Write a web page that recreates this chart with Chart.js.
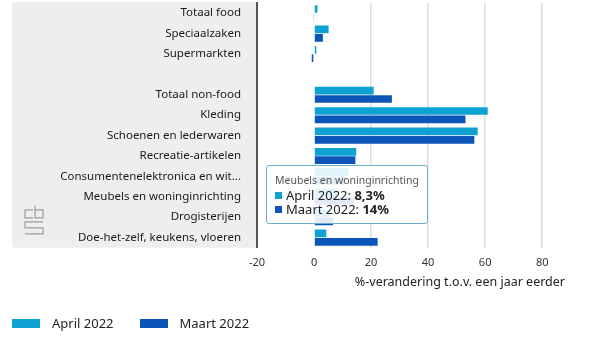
<!DOCTYPE html>
<html>
<head>
<meta charset="utf-8">
<script src="https://cdn.jsdelivr.net/npm/chart.js@4.4.1/dist/chart.umd.min.js"></script>
<style>
  body { margin: 0; background: #fff; font-family: 'Noto Sans', sans-serif; }
  #wrap { position: relative; width: 600px; height: 338px; }
  #tip {
    position: absolute; pointer-events: none; opacity: 0;
    background: rgba(255, 255, 255, 0.88);
    border: 1.5px solid #6aafd0; border-radius: 3px;
    padding: 7px 8px 7px 8px; white-space: nowrap;
  }
  #tip .t { font-size: 10.5px; line-height: 14px; color: #555; margin-bottom: 1px; }
  #tip .r { font-size: 13px; line-height: 14px; color: #222; }
  #tip .sw { display: inline-block; width: 7px; height: 7px; margin-right: 4px; vertical-align: 1px; }
  #legend { position: absolute; left: 12px; top: 314px; display: flex; gap: 26px; }
  #legend .li { display: flex; align-items: center; font-size: 13px; color: #222; }
  #legend .bx { width: 28px; height: 9px; margin-right: 12px; }
</style>
</head>
<body>
<div id="wrap">
  <canvas id="chart"></canvas>
  <div id="legend"></div>
  <div id="tip"></div>
</div>
<script>
const categories = [
  'Totaal food', 'Speciaalzaken', 'Supermarkten', '',
  'Totaal non-food', 'Kleding', 'Schoenen en lederwaren', 'Recreatie-artikelen',
  'Consumentenelektronica en wit...', 'Meubels en woninginrichting', 'Drogisterijen',
  'Doe-het-zelf, keukens, vloeren'
];
const april2022 = [1.2, 5.1, 0.8, null, 20.9, 60.9, 57.4, 14.8, 12.2, 8.3, 5.5, 4.3];
const maart2022 = [-0.2, 3.1, -0.8, null, 27.3, 53.1, 56.2, 14.5, 11, 14, 6.7, 22.3];
const seriesNames = ['April 2022', 'Maart 2022'];
const seriesColors = ['#0ea2d2', '#0b55b9'];
const xTicks = [-20, 0, 20, 40, 60, 80];
const xTitle = '%-verandering t.o.v. een jaar eerder';
const tipIndex = 9; // Meubels en woninginrichting

const fmt = v => v.toLocaleString('nl-NL');

// grey label panel + cbs mark behind the y-axis labels
const panelPlugin = {
  id: 'panel',
  beforeDraw(chart) {
    const { ctx, chartArea, scales } = chart;
    const left = scales.y.left;
    const top = chartArea.top - 1;
    ctx.save();
    ctx.fillStyle = '#eeeeee';
    ctx.beginPath();
    ctx.roundRect(left, top, chartArea.left - left, chartArea.bottom - top, [4, 0, 0, 4]);
    ctx.fill();

    const lx = left + 13, ly = chartArea.bottom - 42;
    ctx.strokeStyle = '#9c9c9c';
    ctx.lineWidth = 1.2;
    ctx.beginPath();
    ctx.moveTo(lx + 8, ly + 4); ctx.lineTo(lx, ly + 4); ctx.lineTo(lx, ly + 12); ctx.lineTo(lx + 8, ly + 12);
    ctx.moveTo(lx + 10, ly); ctx.lineTo(lx + 10, ly + 12); ctx.lineTo(lx + 18, ly + 12); ctx.lineTo(lx + 18, ly + 4); ctx.lineTo(lx + 10, ly + 4);
    ctx.moveTo(lx + 18, ly + 16); ctx.lineTo(lx, ly + 16); ctx.lineTo(lx, ly + 22); ctx.lineTo(lx + 18, ly + 22);
    ctx.lineTo(lx + 18, ly + 28); ctx.lineTo(lx, ly + 28);
    ctx.stroke();
    ctx.restore();
  }
};

function renderTip(context) {
  const { chart, tooltip } = context;
  const el = document.getElementById('tip');
  if (!tooltip.dataPoints || !tooltip.dataPoints.length) { el.style.opacity = 0; return; }
  el.innerHTML = '<div class="t">' + tooltip.title[0] + '</div>' +
    tooltip.dataPoints.map(p =>
      `<div class="r"><span class="sw" style="background:${p.dataset.backgroundColor}"></span>` +
      `${p.dataset.label}: <b>${fmt(p.raw)}%</b></div>`).join('');
  const yPix = chart.scales.y.getPixelForValue(tipIndex);
  el.style.left = (chart.chartArea.left + 9) + 'px';
  el.style.top = (yPix - 32) + 'px';
  el.style.opacity = 1;
}

const chart = new Chart(document.getElementById('chart'), {
  type: 'bar',
  data: {
    labels: categories,
    datasets: [
      { label: seriesNames[0], data: april2022, backgroundColor: seriesColors[0], categoryPercentage: 0.82, barPercentage: 0.92 },
      { label: seriesNames[1], data: maart2022, backgroundColor: seriesColors[1], categoryPercentage: 0.82, barPercentage: 0.92 }
    ]
  },
  options: {
    indexAxis: 'y',
    responsive: true,
    maintainAspectRatio: false,
    animation: false,
    events: [],
    layout: { autoPadding: false, padding: { left: 12, top: 3, right: 35, bottom: 48 } },
    scales: {
      x: {
        min: -20,
        max: 88,
        afterBuildTicks: s => { s.ticks = xTicks.map(v => ({ value: v })); },
        grid: {
          color: c => (c.tick && c.tick.value > 0) ? '#dddddd' : 'rgba(0,0,0,0)',
          lineWidth: 1.5,
          drawTicks: false
        },
        border: { display: false },
        ticks: { color: '#333', font: { family: 'Noto Sans', size: 11 }, padding: 8 },
        title: {
          display: true, text: xTitle, align: 'end', color: '#222',
          font: { family: 'Noto Sans', size: 12.5 }, padding: { top: -2, bottom: 0 }
        }
      },
      y: {
        afterFit: s => {
          s.width = 245;
          // label padding should only push sideways, not shrink the plot vertically
          s.paddingTop = 0;
          s.paddingBottom = 0;
        },
        grid: { display: false, drawTicks: false },
        border: { display: true, color: '#555', width: 2 },
        ticks: { color: '#1a1a1a', font: { family: 'Noto Sans', size: 11.5 }, padding: 16, autoSkip: false }
      }
    },
    plugins: {
      legend: { display: false },
      tooltip: { enabled: false, mode: 'index', external: renderTip }
    }
  },
  plugins: [panelPlugin]
});

// legend built from the datasets
document.getElementById('legend').innerHTML = chart.data.datasets.map(d =>
  `<div class="li"><span class="bx" style="background:${d.backgroundColor}"></span>${d.label}</div>`).join('');

chart.tooltip.setActiveElements([
  { datasetIndex: 0, index: tipIndex },
  { datasetIndex: 1, index: tipIndex }
], { x: 0, y: 0 });
chart.update();
</script>
</body>
</html>
